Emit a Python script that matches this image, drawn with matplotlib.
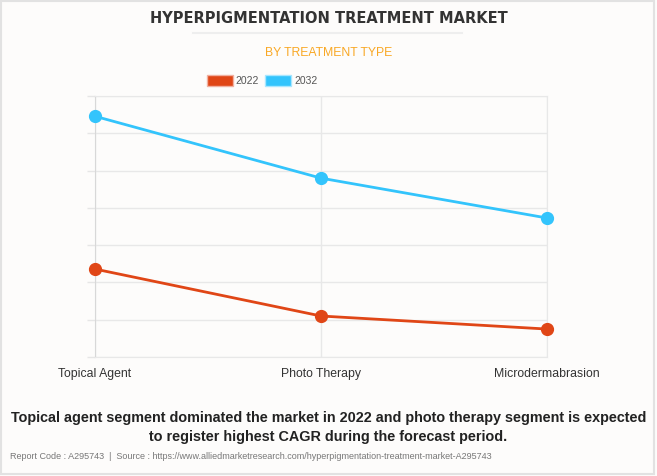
import matplotlib.pyplot as plt
from matplotlib.patches import Rectangle
from matplotlib.lines import Line2D

# data (arbitrary units, axis has no labels)
categories = ['Topical Agent', 'Photo Therapy', 'Microdermabrasion']
years = ['2022', '2032']
values_2022 = [2.36, 1.10, 0.75]
values_2032 = [6.46, 4.80, 3.73]

colors = {'2022': '#e04616', '2032': '#33c4fc'}
sans = ['Liberation Sans', 'DejaVu Sans']

fig = plt.figure(figsize=(6.57, 4.76), dpi=100)
fig.patch.set_facecolor('#fdfcfb')

# outer frame
fig.add_artist(Rectangle((0.002, 0.004), 0.994, 0.993, transform=fig.transFigure,
                         fill=False, edgecolor='#e2e2e2', linewidth=1.5))

ax = fig.add_axes([0.1446, 0.25, 0.688, 0.548])
ax.set_facecolor('#fdfcfb')

x = list(range(len(categories)))
for yr, vals in zip(years, [values_2022, values_2032]):
    ax.plot(x, vals, color=colors[yr], linewidth=2.0, marker='o', markersize=8.5,
            clip_on=False, zorder=3)

ax.set_xlim(0, 2)
ax.set_ylim(0, 7)
ax.set_yticks(range(0, 8))
ax.set_yticklabels([])
ax.set_xticks(x)
ax.set_xticklabels(categories, family=sans, fontsize=8.8, color='#333333')
ax.tick_params(axis='y', length=6, color='#e6e6e6', width=1)
ax.tick_params(axis='x', length=0, pad=8)
ax.grid(True, color='#e8e8e8', linewidth=1)
ax.set_axisbelow(True)
for side in ['top', 'right', 'bottom']:
    ax.spines[side].set_color('#e8e8e8')
ax.spines['left'].set_color('#d8d8d8')

# titles
fig.text(0.5, 0.962, 'HYPERPIGMENTATION TREATMENT MARKET', ha='center', va='center',
         fontsize=10.5, fontweight='bold', color='#333333', family='DejaVu Sans')
fig.add_artist(Line2D([0.294, 0.703], [0.93, 0.93], transform=fig.transFigure,
                      color='#eeeeee', linewidth=1.5))
fig.text(0.5, 0.889, 'BY TREATMENT TYPE', ha='center', va='center',
         fontsize=8.8, color='#f9a825', family=sans)

# legend
handles = [Rectangle((0, 0), 1, 1, facecolor=colors[yr], edgecolor='#f0b0a0' if yr == '2022' else '#a8e6ff')
           for yr in years]
leg = fig.legend(handles, years, loc='center', bbox_to_anchor=(0.399, 0.831), ncol=2,
                 frameon=False, handlelength=2.5, handleheight=1.3, handletextpad=0.3,
                 columnspacing=0.6, prop={'family': sans, 'size': 7.5})
for t in leg.get_texts():
    t.set_color('#555555')

# caption
fig.text(0.5, 0.102, 'Topical agent segment dominated the market in 2022 and photo therapy segment is expected\n'
         'to register highest CAGR during the forecast period.', ha='center', va='center',
         fontsize=10.4, fontweight='bold', color='#222222', family=sans, linespacing=1.4)
fig.text(0.015, 0.04, 'Report Code : A295743  |  Source : https://www.alliedmarketresearch.com/hyperpigmentation-treatment-market-A295743',
         ha='left', va='center', fontsize=6.5, color='#777777', family=sans)

fig.savefig('out.png', dpi=100, facecolor=fig.get_facecolor())
